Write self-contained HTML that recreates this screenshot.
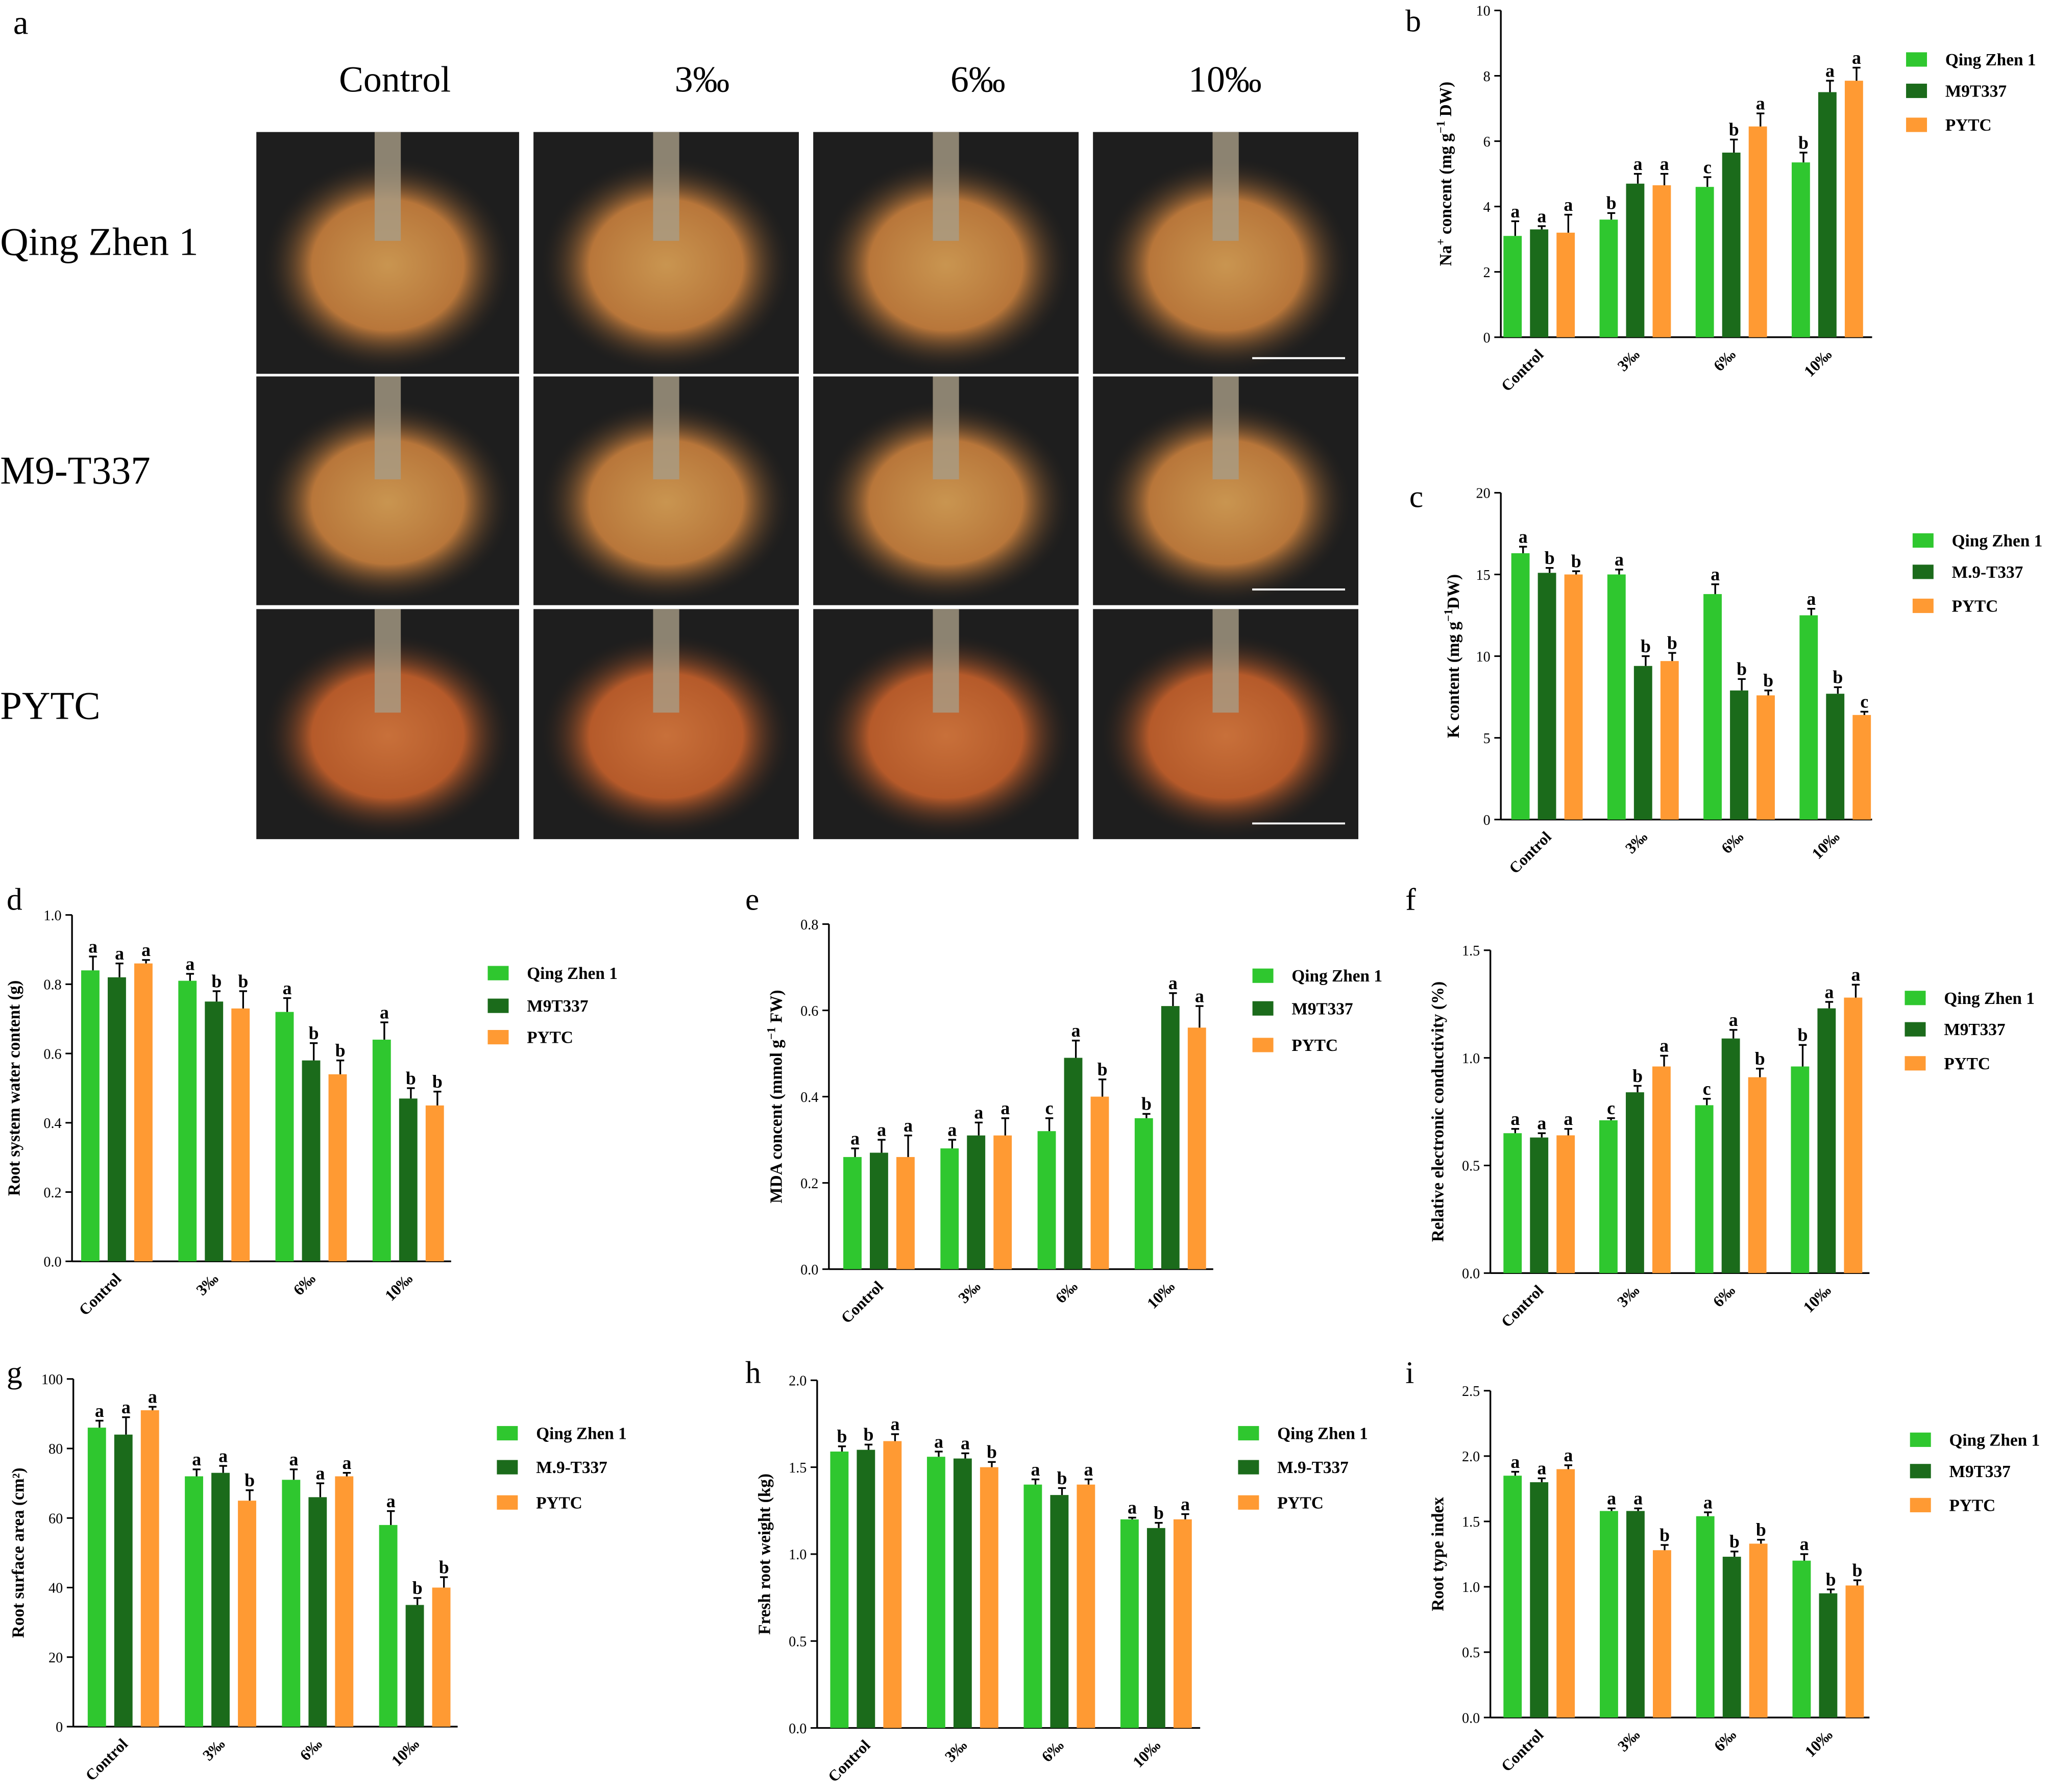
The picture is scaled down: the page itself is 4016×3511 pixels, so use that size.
<!DOCTYPE html>
<html><head><meta charset="utf-8"><style>
html,body{margin:0;padding:0;background:#fff}
svg{display:block}
text{font-family:"Liberation Serif",serif}
</style></head><body>
<svg id="root" width="4016" height="3511" viewBox="0 0 1568 1371" xmlns="http://www.w3.org/2000/svg">
<defs>
<radialGradient id="rootg" cx="50%" cy="50%" r="50%">
<stop offset="0" stop-color="#c99550"/><stop offset="0.6" stop-color="#b8763a"/><stop offset="1" stop-color="#1d1d1d" stop-opacity="0"/>
</radialGradient>
<radialGradient id="rootr" cx="50%" cy="50%" r="50%">
<stop offset="0" stop-color="#c8703a"/><stop offset="0.6" stop-color="#b55a2a"/><stop offset="1" stop-color="#1d1d1d" stop-opacity="0"/>
</radialGradient>
</defs>
<g id="photos"></g>
<g id="charts"></g>
</svg>
<script>
const NS="http://www.w3.org/2000/svg";
const root=document.getElementById('root');
const photos=document.getElementById('photos');
const charts=document.getElementById('charts');
function el(tag,attrs,parent,txt){const e=document.createElementNS(NS,tag);for(const k in attrs)e.setAttribute(k,attrs[k]);if(txt!==undefined)e.textContent=txt;(parent||root).appendChild(e);return e;}

// ---------- Data ----------
const groups=["Control","3‰","6‰","10‰"];
const bVals=[[3.1,3.3,3.2],[3.6,4.7,4.65],[4.6,5.65,6.45],[5.35,7.5,7.85]];
const bErr=[[0.45,0.1,0.55],[0.2,0.3,0.35],[0.3,0.4,0.4],[0.3,0.35,0.4]];
const bLet=[["a","a","a"],["b","a","a"],["c","b","a"],["b","a","a"]];
const cVals=[[16.3,15.1,15.0],[15.0,9.4,9.7],[13.8,7.9,7.6],[12.5,7.7,6.4]];
const cErr=[[0.4,0.3,0.2],[0.3,0.6,0.5],[0.6,0.7,0.3],[0.4,0.4,0.2]];
const cLet=[["a","b","b"],["a","b","b"],["a","b","b"],["a","b","c"]];
const dVals=[[0.84,0.82,0.86],[0.81,0.75,0.73],[0.72,0.58,0.54],[0.64,0.47,0.45]];
const dErr=[[0.04,0.04,0.01],[0.02,0.03,0.05],[0.04,0.05,0.04],[0.05,0.03,0.04]];
const dLet=[["a","a","a"],["a","b","b"],["a","b","b"],["a","b","b"]];
const eVals=[[0.26,0.27,0.26],[0.28,0.31,0.31],[0.32,0.49,0.40],[0.35,0.61,0.56]];
const eErr=[[0.02,0.03,0.05],[0.02,0.03,0.04],[0.03,0.04,0.04],[0.01,0.03,0.05]];
const eLet=[["a","a","a"],["a","a","a"],["c","a","b"],["b","a","a"]];
const fVals=[[0.65,0.63,0.64],[0.71,0.84,0.96],[0.78,1.09,0.91],[0.96,1.23,1.28]];
const fErr=[[0.02,0.02,0.03],[0.01,0.03,0.05],[0.03,0.04,0.04],[0.1,0.03,0.06]];
const fLet=[["a","a","a"],["c","b","a"],["c","a","b"],["b","a","a"]];
const gVals=[[86,84,91],[72,73,65],[71,66,72],[58,35,40]];
const gErr=[[2,5,1],[2,2,3],[3,4,1],[4,2,3]];
const gLet=[["a","a","a"],["a","a","b"],["a","a","a"],["a","b","b"]];
const hVals=[[1.59,1.60,1.65],[1.56,1.55,1.50],[1.40,1.34,1.40],[1.20,1.15,1.20]];
const hErr=[[0.03,0.03,0.04],[0.03,0.03,0.03],[0.03,0.04,0.03],[0.01,0.03,0.03]];
const hLet=[["b","b","a"],["a","a","b"],["a","b","a"],["a","b","a"]];
const iVals=[[1.85,1.80,1.90],[1.58,1.58,1.28],[1.54,1.23,1.33],[1.20,0.95,1.01]];
const iErr=[[0.03,0.03,0.03],[0.02,0.02,0.04],[0.03,0.04,0.03],[0.05,0.03,0.04]];
const iLet=[["a","a","a"],["a","a","b"],["a","b","b"],["a","b","b"]];

const colors=["#2fc72f","#1b6b1b","#ff9a33"];

// ---------- Photos ----------
const cols=[[196,397],[408,611],[622,825],[836,1039]];
const rows=[[101,286],[288,463],[466,642]];
rows.forEach((r,ri)=>cols.forEach((c,ci)=>{
  const g=el('g',{},photos);
  
  
  const w=c[1]-c[0],h=r[1]-r[0];
  el('rect',{x:c[0],y:r[0],width:w,height:h,fill:'#1e1e1e'},g);
  el('ellipse',{cx:c[0]+w/2,cy:r[0]+h*0.55,rx:w*0.48,ry:h*0.45,fill:ri===2?'url(#rootr)':'url(#rootg)'},g);
  el('rect',{x:c[0]+w/2-10,y:r[0],width:20,height:h*0.45,fill:'#a89c86',opacity:0.8},g);
  if(ci===3) el('line',{x1:c[0]+w*0.6,x2:c[0]+w*0.95,y1:r[1]-12,y2:r[1]-12,stroke:'#fff','stroke-width':1.5},g);
}));
el('text',{x:10,y:26,'font-size':26},photos,'a');
[["Control",302],["3‰",537],["6‰",748],["10‰",937]].forEach(([t,x])=>{
  const e=el('text',{x:x,y:70,'font-size':28,'text-anchor':'middle'},photos,t);
  
});
[["Qing Zhen 1",195],["M9-T337",370],["PYTC",550]].forEach(([t,y])=>{
  const e=el('text',{x:0,y:y,'font-size':30},photos,t);
  
});

// ---------- Charts ----------
function chart(o){
  const g=el('g',{},charts);
  
  
  const y=v=>o.y0-(v/o.max)*(o.y0-o.y1);
  el('text',{x:o.lx,y:o.ly,'font-size':24},g,o.id);
  el('line',{x1:o.ax,x2:o.ax,y1:o.y1,y2:o.y0,stroke:'#000','stroke-width':1.3},g);
  el('line',{x1:o.ax,x2:o.xend,y1:o.y0,y2:o.y0,stroke:'#000','stroke-width':1.3},g);
  o.ticks.forEach(t=>{
    const ty=y(t);
    el('line',{x1:o.ax-5,x2:o.ax,y1:ty,y2:ty,stroke:'#000','stroke-width':1.2},g);
    el('text',{x:o.ax-8,y:ty+4,'font-size':11,'text-anchor':'end'},g,o.fmt(t));
  });
  const yt=el('text',{x:0,y:0,'font-size':13,'font-weight':'bold','text-anchor':'middle',transform:`translate(${o.ax-o.tOff},${(o.y0+o.y1)/2}) rotate(-90)`},g);
  yt.innerHTML=o.title;
  
  const bw=14;
  o.vals.forEach((gv,gi)=>{
    gv.forEach((v,si)=>{
      const cx=o.x0+gi*o.gstep+si*20.3;
      const top=y(v), et=y(v+o.err[gi][si]);
      const b=el('rect',{x:cx-bw/2,y:top,width:bw,height:o.y0-top,fill:colors[si]},g);
      
      el('line',{x1:cx+2,x2:cx+2,y1:top,y2:et,stroke:'#000','stroke-width':1.3},g);
      el('line',{x1:cx-1,x2:cx+5,y1:et,y2:et,stroke:'#000','stroke-width':1.3},g);
      el('text',{x:cx+2,y:et-3,'font-size':14,'font-weight':'bold','text-anchor':'middle'},g,o.lets[gi][si]);
    });
    const lx=o.x0+gi*o.gstep+20.3+4, ly=o.y0+14;
    const t=el('text',{x:0,y:0,'font-size':12,'font-weight':'bold','text-anchor':'end',transform:`translate(${lx},${ly}) rotate(-45)`},g,groups[gi]);
    
  });
  o.legend.forEach((n,i)=>{
    const ly=o.legY[i];
    const r=el('rect',{x:o.legX,y:ly-6,width:16,height:11,fill:colors[i]},g);
    
    const t=el('text',{x:o.legX+30,y:ly+4,'font-size':13,'font-weight':'bold'},g,n);
    
  });
}
const f1=v=>v.toFixed(1), f0=v=>String(v);
chart({id:'b',lx:1075,ly:24,ax:1148,y0:258,y1:8,max:10,ticks:[0,2,4,6,8,10],fmt:f0,x0:1157,gstep:73.5,xend:1432,vals:bVals,err:bErr,lets:bLet,
 title:'Na<tspan baseline-shift="super" font-size="9">+</tspan> concent (mg g<tspan baseline-shift="super" font-size="9">−1</tspan> DW)',tOff:38,legX:1458,legY:[46,70,96],legend:["Qing Zhen 1","M9T337","PYTC"]});
chart({id:'c',lx:1078,ly:388,ax:1148,y0:627,y1:377,max:20,ticks:[0,5,10,15,20],fmt:f0,x0:1163,gstep:73.5,xend:1432,vals:cVals,err:cErr,lets:cLet,
 title:'K content (mg g<tspan baseline-shift="super" font-size="9">−1</tspan>DW)',tOff:32,legX:1463,legY:[414,438,464],legend:["Qing Zhen 1","M.9-T337","PYTC"]});
chart({id:'d',lx:5,ly:696,ax:55,y0:965,y1:700,max:1.0,ticks:[0,0.2,0.4,0.6,0.8,1.0],fmt:f1,x0:69,gstep:74.3,xend:345,vals:dVals,err:dErr,lets:dLet,
 title:'Root system water content (g)',tOff:40,legX:373,legY:[745,770,794],legend:["Qing Zhen 1","M9T337","PYTC"]});
chart({id:'e',lx:570,ly:696,ax:634,y0:971,y1:707,max:0.8,ticks:[0,0.2,0.4,0.6,0.8],fmt:f1,x0:652,gstep:74.3,xend:928,vals:eVals,err:eErr,lets:eLet,
 title:'MDA concent (mmol g<tspan baseline-shift="super" font-size="9">−1</tspan> FW)',tOff:36,legX:958,legY:[747,772,800],legend:["Qing Zhen 1","M9T337","PYTC"]});
chart({id:'f',lx:1075,ly:696,ax:1140,y0:974,y1:727,max:1.5,ticks:[0,0.5,1.0,1.5],fmt:f1,x0:1157,gstep:73.3,xend:1430,vals:fVals,err:fErr,lets:fLet,
 title:'Relative electronic conductivity (%)',tOff:36,legX:1457,legY:[764,788,814],legend:["Qing Zhen 1","M9T337","PYTC"]});
chart({id:'g',lx:5,ly:1058,ax:56,y0:1321,y1:1055,max:100,ticks:[0,20,40,60,80,100],fmt:f0,x0:74,gstep:74.3,xend:350,vals:gVals,err:gErr,lets:gLet,
 title:'Root surface area (cm²)',tOff:38,legX:380,legY:[1097,1123,1150],legend:["Qing Zhen 1","M.9-T337","PYTC"]});
chart({id:'h',lx:570,ly:1058,ax:625,y0:1322,y1:1056,max:2.0,ticks:[0,0.5,1.0,1.5,2.0],fmt:f1,x0:642,gstep:74,xend:918,vals:hVals,err:hErr,lets:hLet,
 title:'Fresh root weight (kg)',tOff:36,legX:947,legY:[1097,1123,1150],legend:["Qing Zhen 1","M.9-T337","PYTC"]});
chart({id:'i',lx:1075,ly:1058,ax:1140,y0:1314,y1:1064,max:2.5,ticks:[0,0.5,1.0,1.5,2.0,2.5],fmt:f1,x0:1157,gstep:73.7,xend:1430,vals:iVals,err:iErr,lets:iLet,
 title:'Root type index',tOff:36,legX:1461,legY:[1102,1126,1152],legend:["Qing Zhen 1","M9T337","PYTC"]});
</script>
</body></html>
